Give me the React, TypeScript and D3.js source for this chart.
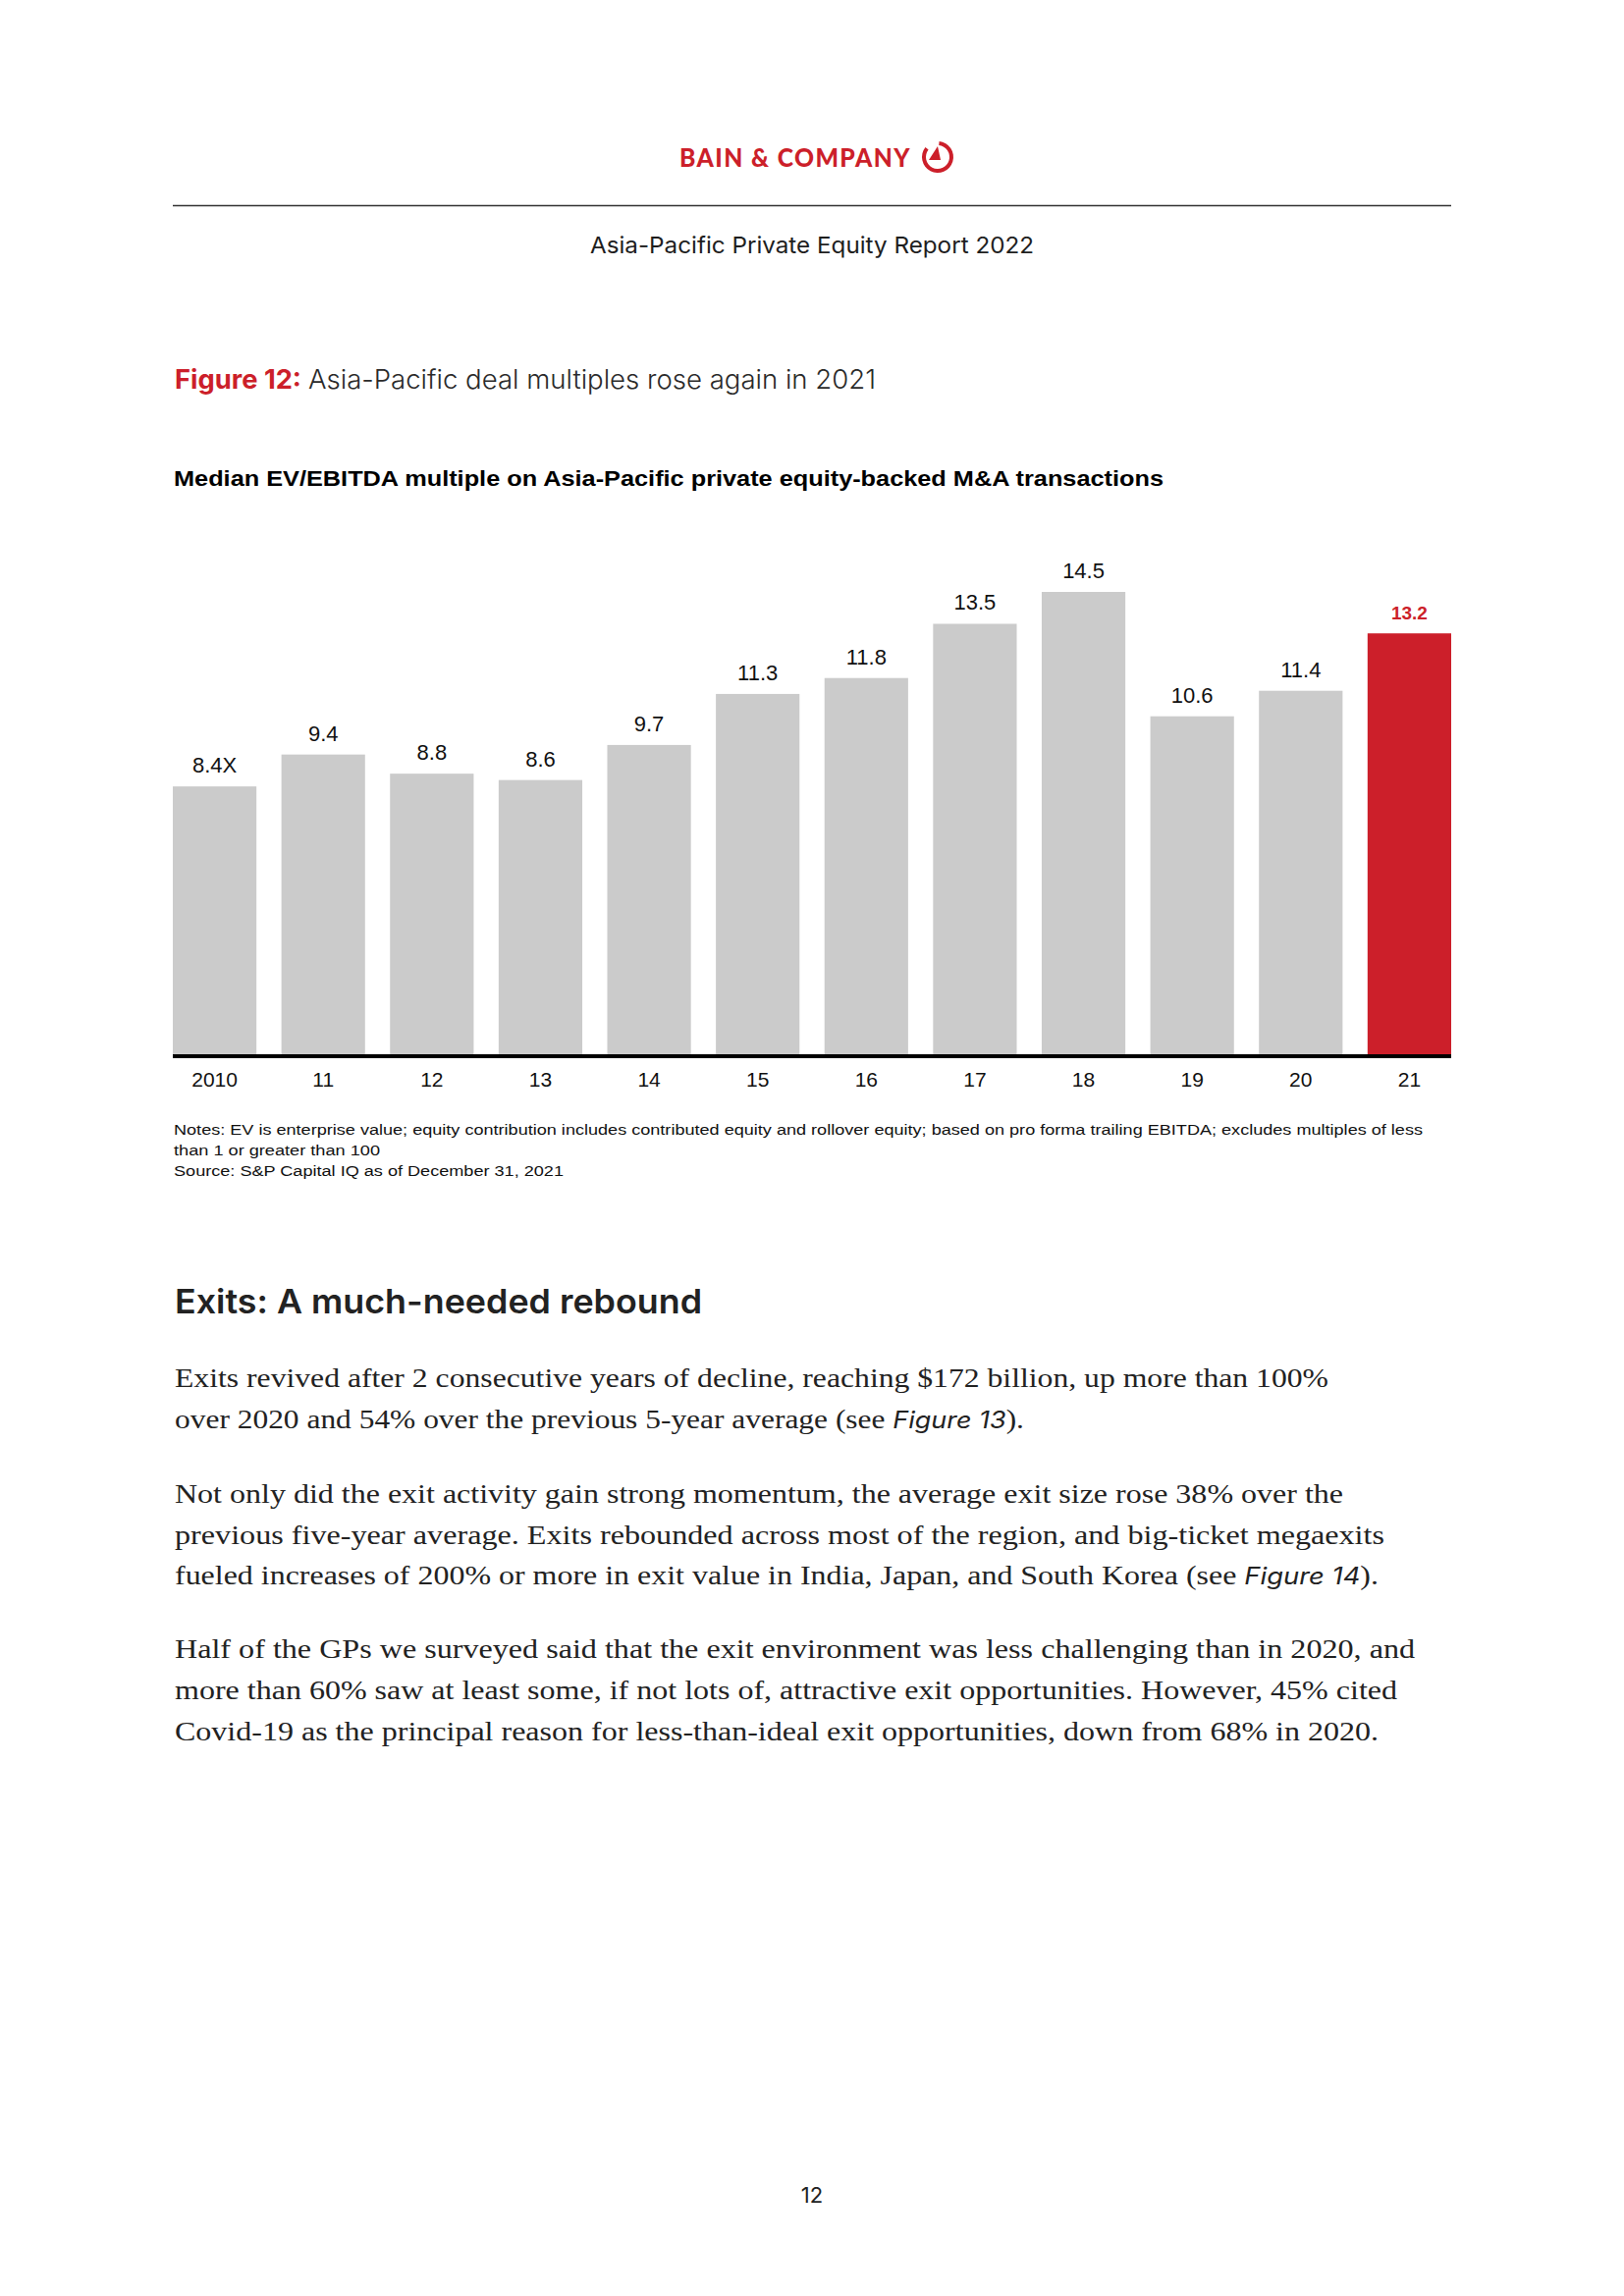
import React from "react";
import * as d3 from "d3";

const years = ["2010", "11", "12", "13", "14", "15", "16", "17", "18", "19", "20", "21"];
const values = [8.4, 9.4, 8.8, 8.6, 9.7, 11.3, 11.8, 13.5, 14.5, 10.6, 11.4, 13.2];
const valueLabels = ["8.4X", "9.4", "8.8", "8.6", "9.7", "11.3", "11.8", "13.5", "14.5", "10.6", "11.4", "13.2"];
const highlightYear = "21";

const noteLines = [
  { t: "Notes: EV is enterprise value; equity contribution includes contributed equity and rollover equity; based on pro forma trailing EBITDA; excludes multiples of less", w: 1272 },
  { t: "than 1 or greater than 100", w: 210 },
  { t: "Source: S&P Capital IQ as of December 31, 2021", w: 397 },
];

type Seg = { t: string; it?: boolean };
const bodyLines: { segs: Seg[]; w: number; y: number }[] = [
  { segs: [{ t: "Exits revived after 2 consecutive years of decline, reaching $172 billion, up more than 100%" }], w: 1175, y: 1413 },
  { segs: [{ t: "over 2020 and 54% over the previous 5-year average (see " }, { t: "Figure 13", it: true }, { t: ")." }], w: 865, y: 1455 },
  { segs: [{ t: "Not only did the exit activity gain strong momentum, the average exit size rose 38% over the" }], w: 1190, y: 1531 },
  { segs: [{ t: "previous five-year average. Exits rebounded across most of the region, and big-ticket megaexits" }], w: 1232, y: 1573 },
  { segs: [{ t: "fueled increases of 200% or more in exit value in India, Japan, and South Korea (see " }, { t: "Figure 14", it: true }, { t: ")." }], w: 1226, y: 1614 },
  { segs: [{ t: "Half of the GPs we surveyed said that the exit environment was less challenging than in 2020, and" }], w: 1263, y: 1689 },
  { segs: [{ t: "more than 60% saw at least some, if not lots of, attractive exit opportunities. However, 45% cited" }], w: 1245, y: 1731 },
  { segs: [{ t: "Covid-19 as the principal reason for less-than-ideal exit opportunities, down from 68% in 2020." }], w: 1226, y: 1773 },
];

const RED = "#CC1F2A";
const GREY = "#CBCBCB";
const TXT = "#1e1e1e";

export default function App() {
  const W = 1654;
  const H = 2339;
  const left = 176;
  const right = 1478;
  const base = 1074;

  const x = d3.scaleBand<string>().domain(years).range([left, right]).paddingInner(0.23).paddingOuter(0);
  const y = d3.scaleLinear().domain([0, 14.5]).range([base, 603]);

  const ringArc = d3.arc()({
    innerRadius: 12,
    outerRadius: 16,
    startAngle: 0.1,
    endAngle: 2 * Math.PI - 0.9,
  } as any) as string;

  return (
    <svg width={W} height={H} viewBox={`0 0 ${W} ${H}`} style={{ position: "absolute", left: 0, top: 0, background: "#fff" }}>
      <rect x={0} y={0} width={W} height={H} fill="#fff" />
      {/* Logo */}
      <text x={692} y={170} fill={RED} fontFamily="Lato, 'Open Sans', sans-serif" fontWeight={900} fontSize={26} letterSpacing={1.5} textLength={236} lengthAdjust="spacingAndGlyphs">
        BAIN &amp; COMPANY
      </text>
      <g transform="translate(955,160)">
        <path d={ringArc} fill={RED} />
        <path d="M-9,3 L3,3 L0,-11 Z" fill={RED} />
      </g>
      <line x1={176} x2={1478} y1={209.5} y2={209.5} stroke="#333" strokeWidth={1.5} />
      <text x={827} y={258} textAnchor="middle" fill={TXT} fontFamily="Inter, 'Open Sans', sans-serif" fontSize={23} textLength={452} lengthAdjust="spacingAndGlyphs">
        Asia-Pacific Private Equity Report 2022
      </text>

      {/* Figure title */}
      <text x={178} y={396} fill={RED} fontFamily="Inter, 'Open Sans', sans-serif" fontWeight={700} fontSize={27} textLength={129} lengthAdjust="spacingAndGlyphs">
        Figure 12:
      </text>
      <text x={314} y={396} fill="#2a2a2a" fontFamily="Inter, 'Open Sans', sans-serif" fontWeight={300} fontSize={27} textLength={578} lengthAdjust="spacingAndGlyphs">
        Asia-Pacific deal multiples rose again in 2021
      </text>

      {/* Subtitle */}
      <text x={177} y={495} fill="#000" fontFamily="'Liberation Sans', Arial, sans-serif" fontWeight={700} fontSize={22} textLength={1008} lengthAdjust="spacingAndGlyphs">
        Median EV/EBITDA multiple on Asia-Pacific private equity-backed M&amp;A transactions
      </text>

      {/* Bars */}
      {years.map((yr, i) => {
        const hl = yr === highlightYear;
        const bx = x(yr)!;
        const top = y(values[i]);
        return (
          <g key={yr}>
            <rect x={bx} y={top} width={x.bandwidth()} height={base - top} fill={hl ? RED : GREY} />
            <text
              x={bx + x.bandwidth() / 2}
              y={top - 14}
              textAnchor="middle"
              fill={hl ? RED : "#111"}
              fontFamily="'Liberation Sans', Arial, sans-serif"
              fontWeight={hl ? 700 : 400}
              fontSize={hl ? 19 : 22}
            >
              {valueLabels[i]}
            </text>
            <text
              x={bx + x.bandwidth() / 2}
              y={1107}
              textAnchor="middle"
              fill="#111"
              fontFamily="'Liberation Sans', Arial, sans-serif"
              fontSize={21}
            >
              {yr}
            </text>
          </g>
        );
      })}
      <line x1={left} x2={right} y1={1076} y2={1076} stroke="#000" strokeWidth={4} />

      {/* Notes */}
      {noteLines.map((n, i) => (
        <text key={i} x={177} y={1156 + i * 21} fill="#111" fontFamily="'Liberation Sans', Arial, sans-serif" fontSize={15.5} textLength={n.w} lengthAdjust="spacingAndGlyphs">
          {n.t}
        </text>
      ))}

      {/* Heading */}
      <text x={178} y={1338} fill="#222" fontFamily="Inter, 'Open Sans', sans-serif" fontWeight={600} fontSize={34} textLength={537} lengthAdjust="spacingAndGlyphs">
        Exits: A much-needed rebound
      </text>

      {/* Body */}
      {bodyLines.map((l, i) => (
        <text key={i} x={178} y={l.y} fill="#222" fontFamily="'Liberation Serif', 'DejaVu Serif', serif" fontSize={28} textLength={l.w} lengthAdjust="spacingAndGlyphs">
          {l.segs.map((s, j) => (
            <tspan key={j} fontStyle={s.it ? "italic" : "normal"} fontFamily={s.it ? "Inter, 'Open Sans', sans-serif" : undefined} fontSize={s.it ? 24 : undefined}>
              {s.t}
            </tspan>
          ))}
        </text>
      ))}

      {/* Page number */}
      <text x={827} y={2244} textAnchor="middle" fill="#222" fontFamily="Inter, 'Open Sans', sans-serif" fontSize={22}>
        12
      </text>
    </svg>
  );
}
